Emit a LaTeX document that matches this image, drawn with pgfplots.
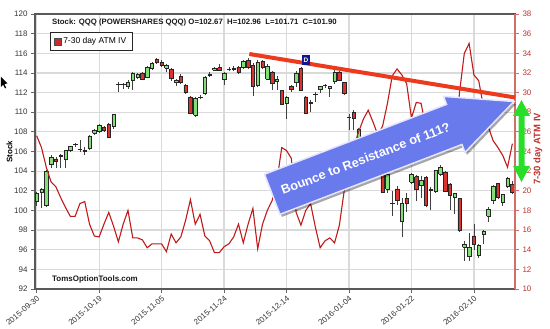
\documentclass[border=0pt]{standalone}
\usepackage{fontspec}
\setmainfont{Liberation Sans}
\usepackage{pgfplots}
\pgfplotsset{compat=1.18}
\usetikzlibrary{shadows}

\definecolor{upg}{RGB}{132,222,120}
\definecolor{dnr}{RGB}{218,52,48}
\definecolor{ivred}{RGB}{192,26,26}
\definecolor{axred}{RGB}{208,110,105}
\definecolor{lblred}{RGB}{190,50,45}
\definecolor{trend}{RGB}{236,58,30}
\definecolor{arrowblue}{RGB}{104,122,236}
\definecolor{garrow}{RGB}{40,222,40}
\definecolor{gridc}{RGB}{218,218,218}
\definecolor{navyd}{RGB}{22,22,140}

\newcommand\candle[5]{% i, open, high, low, close
  \ifdim #5pt<#2pt \def\cc{dnr}\else\def\cc{upg}\fi
  \pgfmathsetmacro\xa{#1-0.36}%
  \pgfmathsetmacro\xb{#1+0.36}%
  \edef\tmp{\noexpand\addplot[draw=black!75, line width=0.7bp] coordinates {(#1,#4) (#1,#3)};
    \noexpand\addplot[draw=black!85, fill=\cc, line width=0.5bp] coordinates {(\xa,#2) (\xb,#2) (\xb,#5) (\xa,#5) (\xa,#2)};}%
  \tmp}

\begin{document}
\begin{tikzpicture}
\path[use as bounding box] (-35bp,-40bp) rectangle (515bp,289bp);
\begin{axis}[
  at={(0,0)}, anchor=south west,
  scale only axis, width=480bp, height=275bp,
  xmin=-0.35, xmax=99.55, ymin=92, ymax=120,
  ytick={92,94,...,120},
  xtick={0,13,26,39,52,65,78,91},
  xticklabels={2015-09-30,2015-10-19,2015-11-05,2015-11-24,2015-12-14,2016-01-04,2016-01-22,2016-02-10},
  xticklabel style={rotate=40, anchor=north east, font=\fontsize{8}{9}\selectfont, text=black!80, inner sep=1.5bp},
  yticklabel style={font=\fontsize{8}{9}\selectfont, text=black!80},
  /pgf/number format/assume math mode=true,
  tick align=outside, xtick pos=left, ytick pos=left,
  major tick length=4bp,
  tick style={black!60, line width=0.8bp},
  grid=major, major grid style={gridc, line width=1.2bp},
  axis line style={black!65, line width=1.2bp},
  every axis y label/.style={at={(rel axis cs:-0.0531,0.5)}, anchor=center, rotate=90, font=\bfseries\fontsize{8}{9}\selectfont},
  ylabel={Stock},
]
\candle{0}{100.9}{101.9}{100.5}{101.7}
\candle{1}{101.9}{102.3}{100.2}{102.2}
\candle{2}{100.5}{104.1}{100.3}{104.0}
\candle{3}{104.75}{105.6}{104.3}{105.4}
\candle{4}{105.25}{105.4}{104.3}{105.0}
\candle{5}{105.55}{105.7}{104.3}{105.6}
\candle{6}{105.2}{106.2}{104.3}{106.1}
\candle{7}{106.1}{106.6}{105.9}{106.5}
\candle{8}{106.7}{106.9}{106.5}{106.72}
\candle{9}{106.25}{107.2}{105.9}{106.2}
\candle{10}{106.15}{106.5}{105.6}{106.0}
\candle{11}{106.3}{107.7}{106.2}{107.6}
\candle{12}{107.9}{108.3}{107.7}{108.15}
\candle{13}{108.1}{108.8}{107.9}{108.7}
\candle{14}{108.5}{108.6}{108.0}{108.2}
\candle{15}{108.8}{108.9}{107.4}{107.5}
\candle{16}{108.55}{109.8}{108.3}{109.75}
\candle{17}{112.8}{113.1}{112.1}{112.83}
\candle{18}{112.8}{113.0}{112.4}{112.83}
\candle{19}{112.65}{113.3}{112.4}{113.1}
\candle{20}{113.25}{114.1}{112.3}{114.0}
\candle{21}{113.6}{114.0}{113.4}{113.85}
\candle{22}{113.95}{114.1}{113.3}{113.35}
\candle{23}{113.6}{114.7}{113.5}{114.6}
\candle{24}{114.45}{115.1}{114.3}{114.95}
\candle{25}{115.4}{115.5}{114.9}{115.05}
\candle{26}{115.1}{115.3}{114.6}{114.8}
\candle{27}{114.5}{114.9}{114.1}{114.8}
\candle{28}{114.35}{114.5}{113.2}{113.5}
\candle{29}{113.0}{113.4}{112.7}{113.25}
\candle{30}{113.65}{113.9}{112.9}{113.1}
\candle{31}{112.75}{112.9}{111.9}{112.05}
\candle{32}{111.55}{111.6}{109.8}{109.85}
\candle{33}{109.7}{111.5}{109.5}{111.4}
\candle{34}{111.5}{111.8}{111.3}{111.53}
\candle{35}{111.9}{113.7}{111.8}{113.6}
\candle{36}{113.8}{114.1}{113.6}{113.83}
\candle{37}{114.3}{114.6}{114.2}{114.45}
\candle{38}{114.55}{114.9}{114.2}{114.3}
\candle{39}{113.4}{114.1}{112.8}{114.0}
\candle{40}{114.35}{114.6}{114.2}{114.38}
\candle{41}{114.4}{114.7}{114.2}{114.43}
\candle{42}{114.6}{114.7}{113.9}{114.05}
\candle{43}{114.55}{115.3}{114.4}{115.2}
\candle{44}{115.3}{115.5}{114.4}{114.55}
\candle{45}{114.8}{115.0}{111.6}{112.6}
\candle{46}{112.75}{115.3}{112.6}{115.1}
\candle{47}{115.2}{115.3}{114.4}{114.6}
\candle{48}{113.4}{114.9}{113.3}{114.7}
\candle{49}{114.1}{114.2}{112.3}{112.9}
\candle{50}{113.2}{113.7}{112.3}{113.4}
\candle{51}{112.2}{112.3}{110.7}{110.8}
\candle{52}{110.9}{111.6}{109.35}{111.55}
\candle{53}{112.65}{112.8}{112.1}{112.3}
\candle{54}{113.0}{114.2}{112.6}{114.0}
\candle{55}{114.45}{114.6}{112.2}{112.25}
\candle{56}{111.55}{111.6}{109.8}{109.85}
\candle{57}{110.9}{111.2}{110.0}{111.05}
\candle{58}{111.8}{112.05}{111.05}{111.83}
\candle{59}{112.3}{112.7}{112.0}{112.6}
\candle{60}{112.7}{112.9}{112.5}{112.73}
\candle{61}{112.4}{112.7}{111.55}{112.6}
\candle{62}{113.2}{114.3}{112.9}{114.1}
\candle{63}{114.1}{114.2}{113.2}{113.25}
\candle{64}{113.0}{113.1}{111.8}{111.9}
\candle{65}{109.5}{109.85}{108.15}{109.53}
\candle{66}{110.0}{110.2}{108.15}{109.35}
\candle{67}{107.4}{108.4}{107.2}{108.3}
\candle{68}{107.0}{107.2}{105.1}{105.3}
\candle{69}{104.9}{105.5}{104.0}{104.2}
\candle{70}{104.3}{104.9}{103.3}{104.6}
\candle{71}{105.0}{105.7}{104.3}{105.5}
\candle{72}{103.7}{104.0}{101.8}{101.85}
\candle{73}{102.2}{103.9}{101.8}{103.7}
\candle{74}{100.7}{102.0}{99.45}{100.73}
\candle{75}{102.2}{102.5}{100.6}{101.0}
\candle{76}{98.9}{101.3}{97.25}{100.7}
\candle{77}{101.2}{101.8}{99.8}{100.75}
\candle{78}{102.9}{103.8}{102.7}{103.7}
\candle{79}{103.45}{103.6}{101.0}{102.2}
\candle{80}{102.6}{103.55}{101.3}{103.1}
\candle{81}{103.4}{103.5}{100.3}{100.55}
\candle{82}{102.1}{102.4}{100.0}{102.13}
\candle{83}{102.0}{104.1}{101.8}{104.05}
\candle{84}{103.7}{104.6}{103.5}{104.4}
\candle{85}{103.9}{104.0}{101.9}{102.0}
\candle{86}{102.7}{102.8}{100.0}{101.5}
\candle{87}{101.35}{101.8}{99.6}{101.7}
\candle{88}{101.2}{101.3}{97.8}{97.95}
\candle{89}{96.25}{96.9}{94.9}{96.6}
\candle{90}{95.3}{97.7}{94.9}{96.25}
\candle{91}{97.4}{98.6}{96.0}{96.55}
\candle{92}{95.4}{96.6}{95.2}{96.5}
\candle{93}{97.6}{98.0}{96.6}{97.9}
\candle{94}{99.45}{100.3}{98.8}{100.15}
\candle{95}{101.0}{102.6}{100.7}{102.5}
\candle{96}{102.75}{102.8}{101.2}{101.35}
\candle{97}{100.8}{101.7}{100.5}{101.6}
\candle{98}{102.5}{103.4}{102.3}{103.3}
\candle{99}{102.67}{102.96}{101.71}{101.90}
\end{axis}

\begin{axis}[
  at={(0,0)}, anchor=south west,
  scale only axis, width=480bp, height=275bp,
  xmin=-0.35, xmax=99.55, ymin=10, ymax=38,
  axis x line=none, axis y line*=right,
  ytick={10,12,...,38},
  yticklabel style={font=\fontsize{8}{9}\selectfont, text=lblred},
  /pgf/number format/assume math mode=true,
  tick align=outside, major tick length=4bp,
  ytick style={axred, line width=0.8bp},
  y axis line style={axred, line width=1.2bp},
  every axis y label/.style={at={(rel axis cs:1.048,0.51)}, anchor=center, rotate=90, font=\bfseries\fontsize{9.5}{11}\selectfont, text=lblred},
  ylabel={7-30 day ATM IV},
  legend style={at={(rel axis cs:0.031,0.935)}, anchor=north west, draw=black!85, line width=0.8bp,
    font=\fontsize{8.5}{10}\selectfont, inner xsep=4bp, inner ysep=3.5bp},
  legend cell align=left,
  legend image code/.code={\draw[fill=dnr!90!black, draw=black!70, line width=0.4bp] (0bp,-3.3bp) rectangle (6.6bp,3.3bp);},
]
\addplot[ivred, line width=1.1bp] table[row sep=\\] {
x y\\ 0 25.6\\ 1 24.4\\ 2 22.4\\ 3 20.9\\ 4 20.4\\ 5 19.3\\ 6 18.3\\ 7 17.4\\ 8 17.4\\ 9 18.7\\
10 18.9\\ 11 16.6\\ 12 15.4\\ 13 15.3\\ 14 16.6\\ 15 17.8\\ 16 16.4\\ 17 14.8\\ 18 16.6\\ 19 18.0\\
20 15.2\\ 21 15.2\\ 22 15.0\\ 23 14.2\\ 24 14.6\\ 25 14.6\\ 26 14.6\\ 27 13.8\\ 28 15.6\\ 29 14.7\\
30 15.3\\ 31 17.0\\ 32 19.1\\ 33 16.6\\ 34 17.6\\ 35 15.4\\ 36 14.9\\ 37 13.7\\ 38 13.7\\ 39 14.3\\
40 14.6\\ 41 15.3\\ 42 16.6\\ 43 14.7\\ 44 16.6\\ 45 18.2\\ 46 14.1\\ 47 16.6\\ 48 18.0\\ 49 19.0\\
50 21.0\\ 51 24.4\\ 52 24.1\\ 53 23.3\\ 54 17.8\\ 55 16.5\\ 56 18.0\\ 57 18.7\\ 58 16.3\\ 59 14.2\\
60 14.9\\ 61 15.2\\ 62 14.7\\ 63 16.5\\ 64 20.0\\ 65 22.5\\ 66 24.5\\ 67 26.0\\ 68 27.3\\ 69 28.2\\
70 27.0\\ 71 25.7\\ 72 26.6\\ 73 28.9\\ 74 31.7\\ 75 32.4\\ 76 31.8\\ 77 30.9\\ 78 27.4\\ 79 29.0\\
80 28.9\\ 81 26.5\\ 82 24.0\\ 83 23.9\\ 84 24.1\\ 85 24.8\\ 86 25.1\\ 87 24.5\\ 88 30.0\\ 89 34.0\\
90 35.0\\ 91 31.8\\ 92 31.2\\ 93 28.5\\ 94 26.5\\ 95 25.1\\ 96 24.4\\ 97 23.6\\ 98 22.4\\ 99 24.8\\
};
\addlegendentry{7-30 day ATM IV}
\end{axis}

% annotations
\node[anchor=west, font=\bfseries\fontsize{7.8}{9.5}\selectfont, text=black!90, inner sep=0] at (17bp,267bp)
  {Stock: QQQ (POWERSHARES QQQ) O=102.67\ \ H=102.96\ \ L=101.71\ \ C=101.90};
\node[anchor=west, font=\bfseries\fontsize{8}{9.5}\selectfont, text=black!90, inner sep=0] at (17bp,10bp)
  {TomsOptionTools.com};
\draw[trend, line width=4bp] (214.3bp,235bp) -- (480bp,191.5bp);
\node[fill=navyd, text=white, font=\bfseries\fontsize{6.5}{7}\selectfont, minimum width=8bp, minimum height=9.5bp, inner sep=0] at (271bp,229bp) {D};
\begin{scope}[shift={(479bp,187.5bp)}, rotate=21]
  \draw[fill=arrowblue, draw=white!90!blue, line width=1.5bp, line join=miter,
        drop shadow={shadow xshift=2bp, shadow yshift=-2.5bp, opacity=0.35, fill=black}]
    (0,0) -- (-64bp,30bp) -- (-64bp,21.5bp) -- (-259bp,21.5bp) -- (-259bp,-21.5bp)
    -- (-64bp,-21.5bp) -- (-64bp,-30bp) -- cycle;
  \node[transform shape, text=white, font=\bfseries\fontsize{12.8}{14}\selectfont] at (-159bp,0) {Bounce to Resistance of 111?};
\end{scope}
\fill[garrow] (486.5bp,189bp) -- (495bp,173bp) -- (489.5bp,173bp) -- (489.5bp,123bp) -- (495bp,123bp)
  -- (486.5bp,107bp) -- (478bp,123bp) -- (483.5bp,123bp) -- (483.5bp,173bp) -- (478bp,173bp) -- cycle;
% mouse pointer
\fill[black] (-34bp,212bp) -- (-34bp,202bp) -- (-31.8bp,204.3bp) -- (-30bp,200.5bp) -- (-28.8bp,201.2bp) -- (-30.6bp,205bp) -- (-27.5bp,205.5bp) -- cycle;
\end{tikzpicture}
\end{document}
